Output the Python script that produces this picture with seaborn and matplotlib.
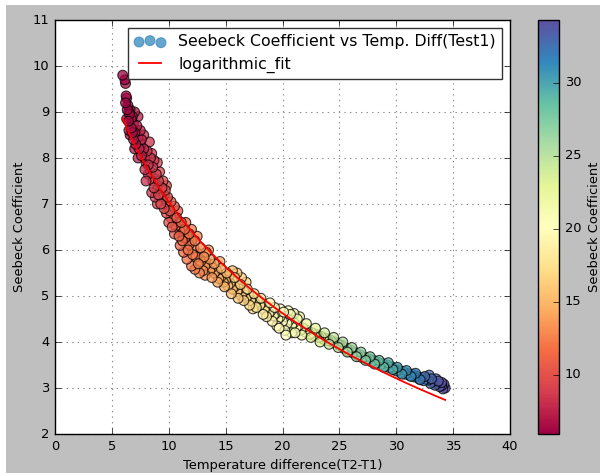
import numpy as np
import pandas as pd
import matplotlib
matplotlib.use("Agg")
import matplotlib.pyplot as plt
import seaborn as sns
from matplotlib.patches import Rectangle

# Temperature difference (T2-T1)
temp_diff = [34.3, 34.2, 34.1, 34.0, 33.8, 33.6, 33.5, 33.4, 33.2, 33.0, 32.9, 32.8, 32.6, 32.4, 32.2, 32.0,
             31.8, 31.6, 31.4, 31.2, 31.0, 30.8, 30.6, 30.4, 30.2, 30.0,
             29.8, 29.6, 29.4, 29.2, 29.0, 28.8, 28.6, 28.4, 28.2, 28.0, 27.8, 27.6, 27.4, 27.2, 27.0,
             26.8, 26.6, 26.4, 26.2, 26.0, 25.8, 25.6, 25.4, 25.2, 25.0,
             24.8, 24.6, 24.4, 24.2, 24.0, 23.8, 23.6, 23.4, 23.2, 23.0, 22.8, 22.6, 22.4, 22.2, 22.0,
             21.8, 21.6, 21.5, 21.4, 21.2, 21.0, 21.0, 20.8, 20.8, 20.6, 20.5, 20.4, 20.2, 20.2, 20.0,
             19.8, 19.8, 19.6, 19.5, 19.4, 19.2, 19.0, 18.8, 18.6, 18.4, 18.2, 18.0, 17.8, 17.6, 17.4,
             17.4, 17.2, 17.0, 16.8, 16.8, 16.6, 16.4, 16.4, 16.2, 16.0, 16.0, 15.8, 15.6, 15.6, 15.4,
             15.3, 15.2, 15.0, 14.8, 14.6, 14.5, 14.4, 14.2, 14.0, 13.8, 13.6, 13.5, 13.4, 13.2, 13.2,
             13.0, 13.0, 12.8, 12.7, 12.6, 12.5, 12.4, 12.3, 12.2, 12.0, 12.0, 12.0, 11.8, 11.6, 11.6,
             11.5, 11.4, 11.3, 11.2, 11.0, 11.0, 10.8, 10.8, 10.6, 10.5, 10.4, 10.2, 10.0, 10.0,
             9.8, 9.8, 9.8, 9.6, 9.5, 9.4, 9.2, 9.2, 9.0, 9.0, 9.0, 8.8, 8.8, 8.7, 8.6, 8.5, 8.5,
             8.4, 8.3, 8.2, 8.0, 8.0, 7.9, 7.8, 7.7, 7.5, 7.3, 7.3, 7.3, 7.1, 7.0, 7.0, 6.9, 6.8,
             6.7, 6.6, 6.6, 6.5, 6.5, 6.4, 6.3, 6.3, 6.25, 6.2, 6.15, 5.95,
             34.0, 33.7, 33.1, 32.5, 32.1, 31.7, 31.3, 30.9, 30.5, 30.1, 29.7, 29.3, 28.9, 28.5, 28.1,
             27.7, 27.3, 26.9, 26.5, 26.1, 25.7, 25.3, 24.9, 24.5, 24.1, 23.7, 23.3, 22.9, 22.5, 22.1,
             21.7, 21.3, 21.1, 20.7, 20.3, 20.1, 19.7, 19.3, 19.1, 18.9, 18.6, 18.3, 18.1, 17.7, 17.5,
             17.1, 16.9, 16.6, 16.3, 16.1, 15.8, 15.5, 15.1, 14.9, 14.6, 14.3, 14.0, 13.8, 13.6, 13.3,
             13.1, 12.8, 12.6, 12.3, 12.1, 11.8, 11.7, 11.4, 11.2, 11.1, 10.9, 10.7, 10.5, 10.3, 10.2,
             10.1, 9.9, 9.7, 9.6, 9.4, 9.3, 9.1, 9.1, 8.9, 8.7, 8.6, 8.4, 8.2, 8.1, 7.9, 7.8, 7.6,
             7.6, 7.5, 7.4, 7.2, 7.1, 7.0, 6.9, 6.8, 6.7, 6.55, 6.45, 6.35, 6.2]

# Seebeck coefficient
seebeck = [3.00, 3.08, 2.98, 3.05, 3.03, 3.10, 3.20, 3.06, 3.14, 3.10, 3.28, 3.17, 3.20, 3.16, 3.23, 3.20,
           3.26, 3.24, 3.30, 3.27, 3.32, 3.30, 3.36, 3.33, 3.39, 3.37,
           3.42, 3.46, 3.44, 3.50, 3.47, 3.53, 3.50, 3.56, 3.54, 3.60, 3.57, 3.63, 3.62, 3.67, 3.66,
           3.72, 3.70, 3.77, 3.76, 3.82, 3.80, 3.87, 3.86, 3.93, 3.93,
           3.97, 4.00, 3.99, 4.04, 4.03, 4.08, 4.06, 4.12, 4.10, 4.16, 4.14, 4.20, 4.17, 4.25, 4.22,
           4.30, 4.26, 4.55, 4.35, 4.31, 4.42, 4.62, 4.36, 4.20, 4.48, 4.68, 4.40, 4.55, 4.25, 4.45,
           4.55, 4.72, 4.50, 4.35, 4.62, 4.57, 4.68, 4.62, 4.78, 4.70, 4.85, 4.80, 4.92, 4.83, 4.98,
           4.72, 4.90, 5.02, 4.95, 5.30, 5.10, 5.00, 5.40, 5.15, 5.10, 5.50, 5.20, 5.15, 5.55, 5.28,
           5.45, 5.22, 5.35, 5.30, 5.42, 5.75, 5.38, 5.55, 5.50, 5.62, 5.55, 6.00, 5.72, 5.66, 5.45,
           5.82, 5.55, 5.75, 5.50, 5.92, 6.30, 5.85, 5.58, 6.05, 6.20, 5.65, 6.45, 6.12, 6.30, 5.80,
           6.60, 6.25, 5.95, 6.45, 6.40, 6.10, 6.60, 6.85, 6.52, 6.35, 6.75, 6.70, 6.95, 6.60,
           7.05, 7.40, 6.80, 7.20, 7.50, 7.15, 7.38, 7.70, 7.33, 7.00, 7.90, 7.55, 7.15, 7.95, 7.50, 7.25, 8.10,
           7.70, 8.35, 7.65, 7.90, 7.50, 8.00, 8.50, 8.15, 8.30, 8.45, 8.90, 8.00, 8.60, 9.00, 8.20, 8.75, 8.90,
           8.85, 9.05, 8.50, 9.00, 8.60, 9.15, 9.30, 8.85, 9.35, 9.62, 9.70, 9.80,
           3.12, 3.15, 3.20, 3.25, 3.18, 3.32, 3.25, 3.38, 3.30, 3.45, 3.40, 3.55, 3.45, 3.60, 3.52,
           3.68, 3.60, 3.78, 3.68, 3.88, 3.78, 4.00, 3.88, 4.10, 3.95, 4.20, 4.00, 4.30, 4.10, 4.40,
           4.15, 4.50, 4.20, 4.60, 4.15, 4.65, 4.30, 4.75, 4.45, 4.85, 4.55, 4.60, 4.95, 4.75, 5.05,
           4.80, 5.15, 4.90, 5.25, 4.95, 5.40, 5.05, 5.50, 5.20, 5.60, 5.30, 5.70, 5.40, 5.80, 5.95,
           5.85, 6.05, 5.70, 6.20, 5.90, 6.35, 6.00, 6.45, 6.20, 6.60, 6.30, 6.70, 6.95, 6.50, 7.05,
           6.85, 7.15, 7.30, 6.90, 7.35, 7.00, 7.20, 7.50, 7.65, 7.35, 7.80, 8.00, 7.85, 8.15, 7.75, 8.20, 8.05,
           8.40, 8.60, 8.20, 8.70, 8.30, 8.55, 8.40, 8.55, 8.65, 8.95, 8.80, 9.05, 9.20]

x_ticks = [0, 5, 10, 15, 20, 25, 30, 35, 40]
y_ticks = [2, 3, 4, 5, 6, 7, 8, 9, 10, 11]
cbar_ticks = [10, 15, 20, 25, 30]

plt.style.use('classic')
plt.rcParams['font.family'] = ['DejaVu Sans']
FS = 9.4

W, H = 600, 476
fig = plt.figure(figsize=(W / 100, H / 100), dpi=100, facecolor='white')
fig.patches.append(Rectangle((6 / W, 3 / H), 594 / W, 468 / H, transform=fig.transFigure,
                             facecolor='#bfbfbf', edgecolor='none', zorder=-10))
ax = fig.add_axes([55 / W, 42 / H, 455 / W, 414 / H])
cax = fig.add_axes([538 / W, 42 / H, 21 / W, 414 / H])

df = pd.DataFrame({'temp_diff': temp_diff, 'seebeck': seebeck})
norm = plt.Normalize(min(temp_diff), max(temp_diff))

sns.scatterplot(data=df, x='temp_diff', y='seebeck', hue='temp_diff', palette='Spectral',
                hue_norm=norm, s=50, alpha=0.75, edgecolor='k', linewidth=0.8,
                legend=False, ax=ax, zorder=2)

coef = np.polyfit(np.log(df['temp_diff']), df['seebeck'], 1)
fit_x = np.unique(df['temp_diff'])
fit_y = coef[0] * np.log(fit_x) + coef[1]
sns.lineplot(x=fit_x, y=fit_y, color='red', linewidth=1.3, errorbar=None, ax=ax, zorder=3)

ax.set_xlim(0, 40)
ax.set_ylim(2, 11)
ax.set_xticks(x_ticks)
ax.set_yticks(y_ticks)
ax.tick_params(labelsize=FS, direction='in', top=True, right=True, length=4)
ax.grid(True, color='0.55', linestyle=':', linewidth=0.8, zorder=0)
ax.set_axisbelow(True)
ax.set_xlabel('Temperature difference(T2-T1)', fontsize=FS)
ax.set_ylabel('Seebeck Coefficient', fontsize=FS)

scat = ax.collections[0]
line = ax.lines[0]
leg = ax.legend([scat, line], ['Seebeck Coefficient vs Temp. Diff(Test1)', 'logarithmic_fit'],
                loc='upper right', fontsize=11.3, scatterpoints=3, frameon=True, fancybox=False)
leg.set_zorder(5)
leg.get_frame().set_edgecolor('0.2')
leg.legend_handles[0].set_facecolor(plt.cm.Spectral(0.9))
leg.legend_handles[0].set_edgecolor(plt.cm.Spectral(0.9))

sm = plt.cm.ScalarMappable(norm=norm, cmap='Spectral')
sm.set_array([])
cbar = fig.colorbar(sm, cax=cax, ticks=cbar_ticks)
cbar.ax.tick_params(labelsize=FS, direction='in', length=4)
cbar.set_label('Seebeck Coefficient', fontsize=FS)

fig.savefig('out.png', dpi=100, facecolor=fig.get_facecolor())
